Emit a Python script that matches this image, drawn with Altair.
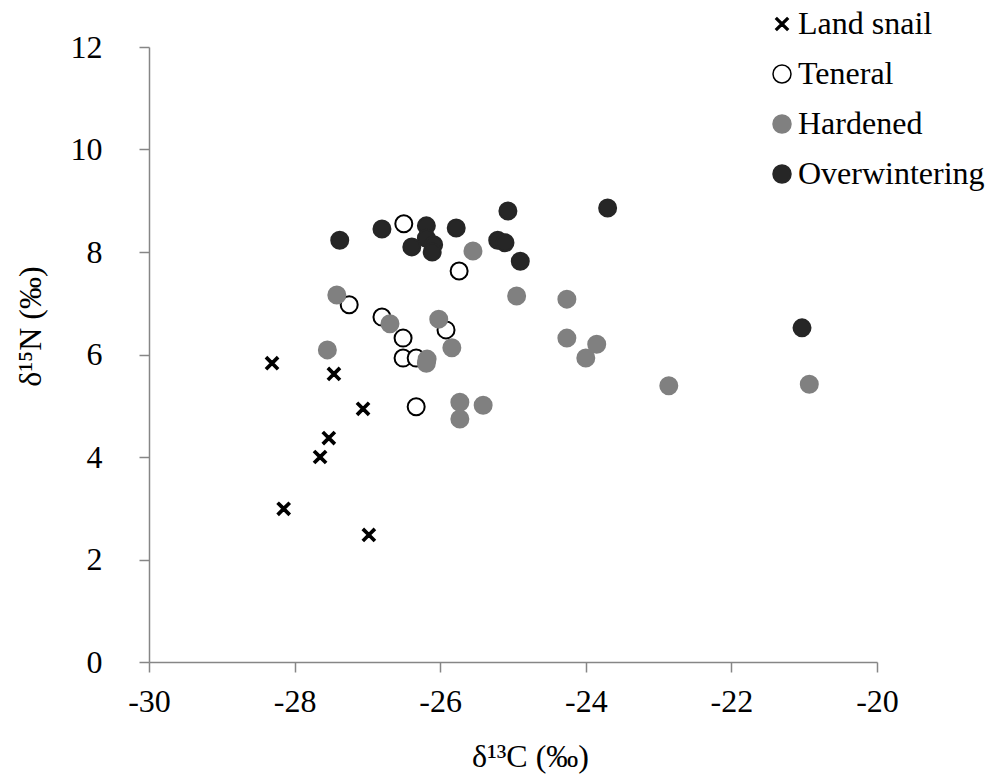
import altair as alt
import pandas as pd

groups = ["Land snail", "Teneral", "Hardened", "Overwintering"]

snail_x = [-28.31, -27.46, -27.06, -27.53, -27.65, -28.15, -26.98]
snail_y = [5.83, 5.62, 4.94, 4.37, 4.00, 2.99, 2.48]

teneral_x = [-26.50, -25.74, -27.25, -26.80, -26.51, -25.92, -26.51, -26.33, -26.33]
teneral_y = [8.55, 7.63, 6.97, 6.73, 6.32, 6.48, 5.93, 5.93, 4.98]

hardened_x = [-25.55, -27.42, -27.55, -26.69, -26.02, -25.84, -26.18, -26.19,
              -24.95, -24.26, -24.26, -23.85, -24.00, -22.86, -20.93,
              -25.73, -25.41, -25.73]
hardened_y = [8.02, 7.16, 6.09, 6.60, 6.69, 6.13, 5.91, 5.83,
              7.14, 7.08, 6.32, 6.20, 5.93, 5.39, 5.42,
              5.07, 5.01, 4.74]

over_x = [-27.38, -26.80, -26.19, -26.19, -26.39, -26.09, -26.11, -25.78,
          -25.07, -25.21, -25.11, -24.90, -23.70, -21.03]
over_y = [8.23, 8.45, 8.51, 8.27, 8.10, 8.14, 8.00, 8.47,
          8.80, 8.23, 8.18, 7.82, 8.86, 6.52]

x_ticks = [-30, -28, -26, -24, -22, -20]
y_ticks = [0, 2, 4, 6, 8, 10, 12]

rows = []
for g, xs, ys in [("Land snail", snail_x, snail_y), ("Teneral", teneral_x, teneral_y),
                  ("Hardened", hardened_x, hardened_y), ("Overwintering", over_x, over_y)]:
    for a, b in zip(xs, ys):
        rows.append({"group": g, "c13": a, "n15": b, "order": len(rows)})
df = pd.DataFrame(rows)

x_path = ("M-0.7,-0.56L-0.56,-0.7L0,-0.14L0.56,-0.7L0.7,-0.56L0.14,0L0.7,0.56"
          "L0.56,0.7L0,0.14L-0.56,0.7L-0.7,0.56L-0.14,0Z")

FONT = "Liberation Serif"
AXIS_COLOR = "#868686"

legend = alt.Legend(title=None, orient="none", legendX=617, legendY=-39, padding=0,
                    labelFont=FONT, labelFontSize=32, labelColor="black", labelLimit=400,
                    symbolSize=324, symbolStrokeWidth=1.5, rowPadding=18, labelOffset=0)

chart = alt.Chart(df).mark_point(filled=True, size=289, strokeWidth=2, opacity=1).encode(
    x=alt.X("c13:Q", scale=alt.Scale(domain=[-30, -20], nice=False, zero=False),
            axis=alt.Axis(values=x_ticks, title="δ¹³C (‰)", labelExpr="'' + datum.value",
                          labelPadding=14, labelFlush=False,
                          titleX=381, titleY=94, titleBaseline="middle")),
    y=alt.Y("n15:Q", scale=alt.Scale(domain=[0, 12], nice=False),
            axis=alt.Axis(values=y_ticks, title="δ¹⁵N (‰)", labelExpr="'' + datum.value",
                          labelPadding=37, labelFlush=False,
                          titleX=-119, titleY=279, titleBaseline="middle",
                          titleAngle=270)),
    shape=alt.Shape("group:N", scale=alt.Scale(domain=groups,
                    range=[x_path, "circle", "circle", "circle"]), legend=legend),
    fill=alt.Fill("group:N", scale=alt.Scale(domain=groups,
                  range=["black", "white", "#808080", "#262626"]), legend=legend),
    stroke=alt.Stroke("group:N", scale=alt.Scale(domain=groups,
                      range=["black", "black", "#808080", "#262626"]), legend=legend),
    order=alt.Order("order:Q"),
).properties(
    width=728, height=615,
    autosize=alt.AutoSizeParams(type="none"),
    padding={"left": 149, "top": 47, "right": 111, "bottom": 118},
    background="white",
).configure_view(stroke=None).configure_axis(
    grid=False, domainColor=AXIS_COLOR, tickColor=AXIS_COLOR, domainWidth=1.5,
    tickWidth=1.5, tickSize=10, labelFont=FONT, labelFontSize=32, labelColor="black",
    titleFont=FONT, titleFontSize=32, titleFontWeight="normal", titleColor="black",
)

chart.save("out.html", embed_options={"renderer": "svg", "actions": False})
